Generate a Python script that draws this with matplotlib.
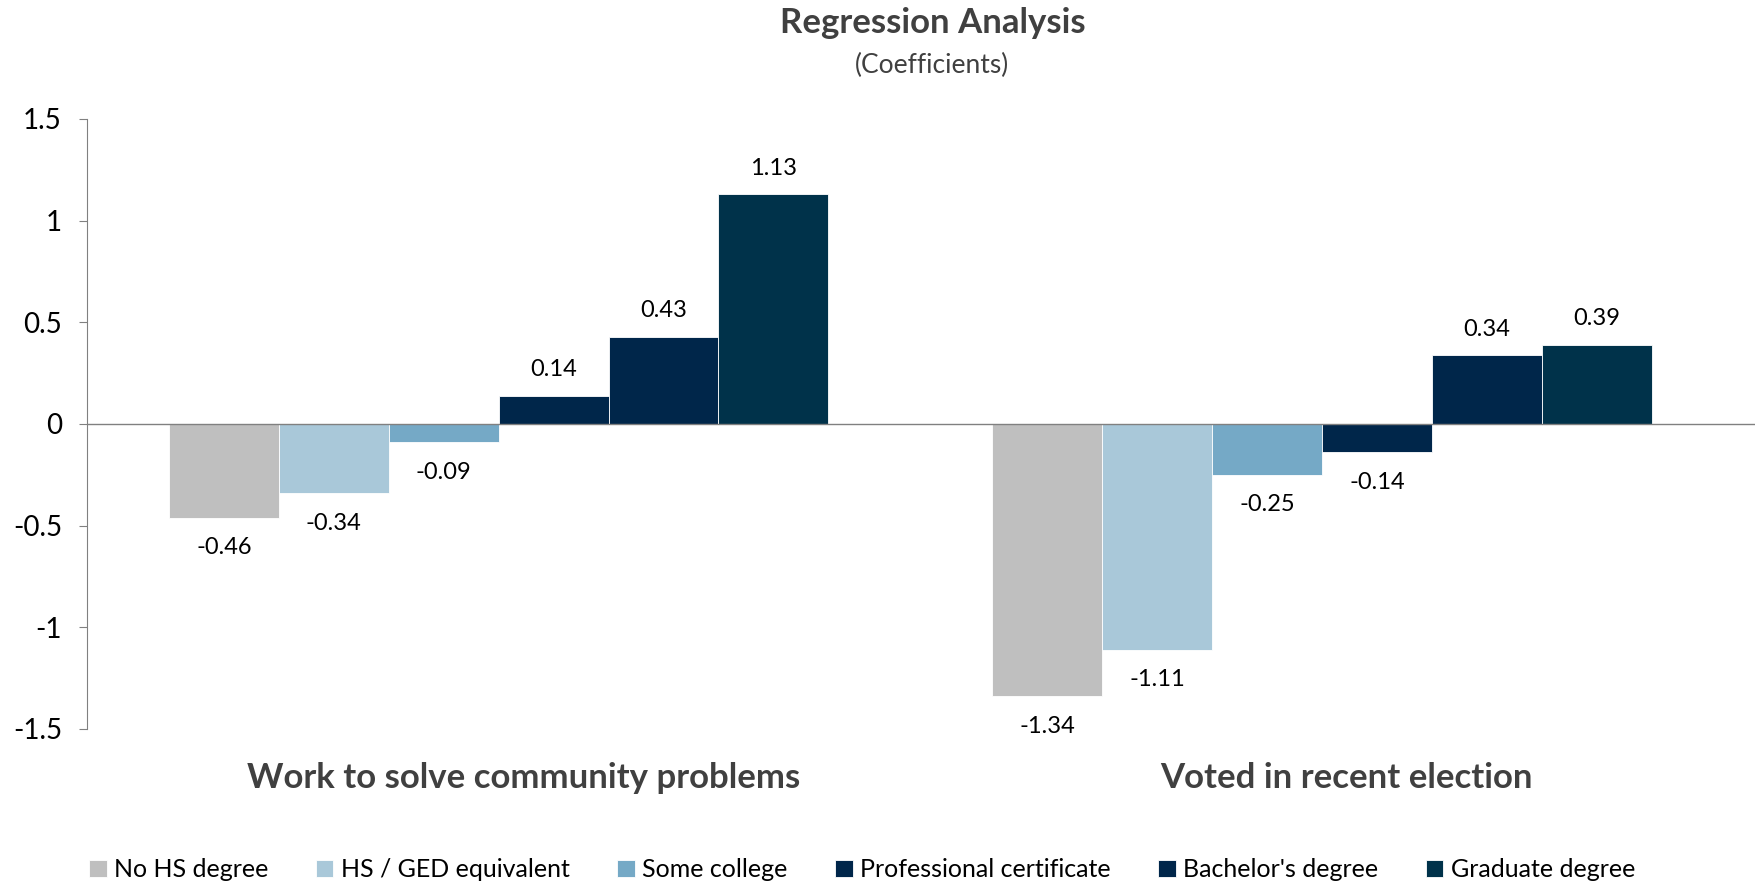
import matplotlib
matplotlib.use('Agg')
import matplotlib.pyplot as plt
import numpy as np

plt.rcParams['font.family'] = ['Lato', 'DejaVu Sans']

# Data
groups = ['Work to solve community problems', 'Voted in recent election']
series = ['No HS degree', 'HS / GED equivalent', 'Some college',
          'Professional certificate', "Bachelor's degree", 'Graduate degree']
values = [
    [-0.46, -1.34],
    [-0.34, -1.11],
    [-0.09, -0.25],
    [0.14, -0.14],
    [0.43, 0.34],
    [1.13, 0.39],
]
colors = ['#BFBFBF', '#A9C8D9', '#75A9C6', '#00264A', '#00264A', '#00324A']
y_ticks = [-1.5, -1, -0.5, 0, 0.5, 1, 1.5]
y_tick_labels = ['-1.5', '-1', '-0.5', '0', '0.5', '1', '1.5']

TEXT = '#000000'
DARK = '#404040'

fig = plt.figure(figsize=(17.56, 8.94), dpi=100)
ax = fig.add_axes([0.0495, 0.1846, 0.9505, 0.6823])

x = np.arange(len(groups))
width = 0.1335
n = len(series)
for i, (name, vals, col) in enumerate(zip(series, values, colors)):
    pos = x + (i - (n - 1) / 2) * width
    ax.bar(pos, vals, width, color=col, label=name, edgecolor='white', linewidth=0.6)
    for p, v in zip(pos, vals):
        off = 11 if v >= 0 else -14
        ax.annotate(f'{v:.2f}', (p, v), xytext=(0, off), textcoords='offset points',
                    ha='center', va='bottom' if v >= 0 else 'top',
                    fontsize=17, color=TEXT)

ax.axhline(0, color='#808080', linewidth=1)
ax.set_xlim(-0.5, 1.527)
ax.set_ylim(-1.5, 1.5)
ax.set_yticks(y_ticks)
ax.set_yticklabels(y_tick_labels, fontsize=20, color=TEXT)
ax.tick_params(axis='y', length=6, color='#808080', pad=12)
ax.set_xticks([])
for s in ['top', 'right', 'bottom']:
    ax.spines[s].set_visible(False)
ax.spines['left'].set_color('#808080')

# group labels under the plot
for xi, g in zip(x, groups):
    ax.annotate(g, (xi + 0.03, -1.5), xytext=(0, -24), textcoords='offset points',
                ha='center', va='top', fontsize=25, fontweight='bold', color=DARK)

# titles
fig.text(0.531, 0.974, 'Regression Analysis', ha='center', va='center',
         fontsize=25, fontweight='bold', color=DARK)
fig.text(0.531, 0.927, '(Coefficients)', ha='center', va='center',
         fontsize=19, color=DARK)

fig.legend(loc='center', bbox_to_anchor=(0.491, 0.027), ncol=6, frameon=False,
           fontsize=18, handlelength=0.7, handleheight=0.7, handletextpad=0.3,
           columnspacing=1.9, labelcolor=TEXT)

fig.savefig('out.png', dpi=100)
